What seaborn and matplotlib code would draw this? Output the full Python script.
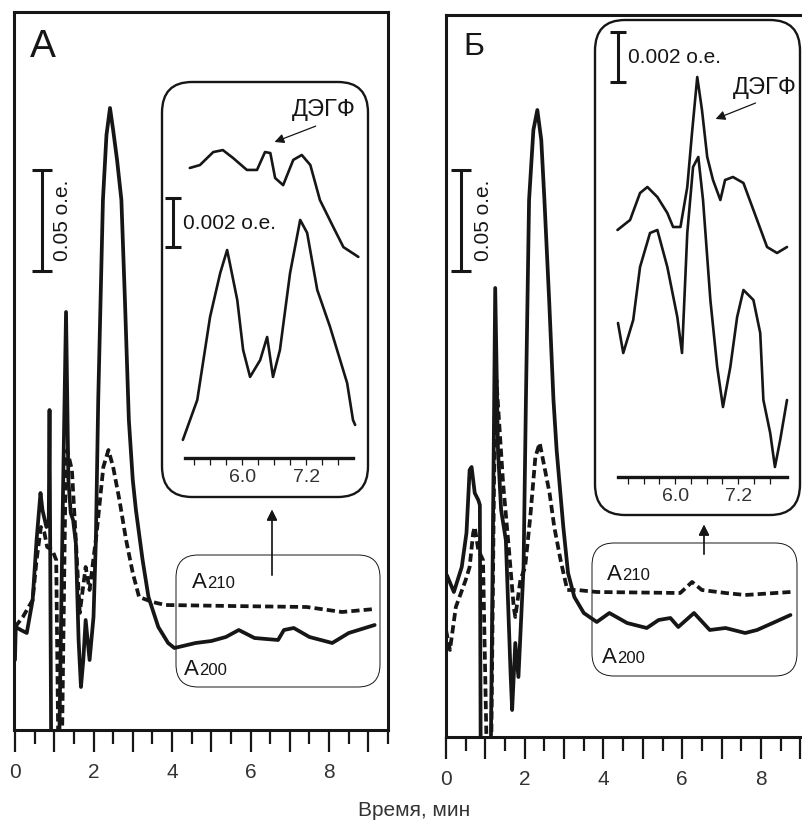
import numpy as np
import pandas as pd
import matplotlib.pyplot as plt
import seaborn as sns
from matplotlib.patches import FancyBboxPatch

sns.set_style("white")
plt.rcParams['font.family'] = ['Liberation Sans', 'DejaVu Sans']

W, H = 802, 821
INK = '#161616'

# --- Панель А: основная хроматограмма (время, мин / поглощение, о.е.) ---
a200_t = [0.00, 0.02, 0.15, 0.30, 0.45, 0.55, 0.65, 0.70, 0.80, 0.86, 0.88, 0.92, 1.13, 1.22, 1.30,
          1.36, 1.42, 1.48, 1.55, 1.62, 1.68, 1.74, 1.80, 1.90, 2.00, 2.06, 2.12, 2.18, 2.24, 2.33,
          2.42, 2.50, 2.60, 2.71, 2.80, 2.90, 3.00, 3.08, 3.25, 3.40, 3.65, 3.90, 4.06, 4.60, 5.00,
          5.37, 5.70, 6.10, 6.70, 6.85, 7.10, 7.50, 8.08, 8.50, 9.16]
a200_y = [0.035, 0.0515, 0.050, 0.0485, 0.065, 0.095, 0.1185, 0.110, 0.1015, 0.105, 0.160, -0.003,
          -0.003, 0.115, 0.209, 0.125, 0.1085, 0.105, 0.0935, 0.045, 0.0215, 0.035, 0.055, 0.035,
          0.0565, 0.095, 0.165, 0.215, 0.265, 0.2975, 0.311, 0.300, 0.285, 0.265, 0.215, 0.155,
          0.125, 0.110, 0.085, 0.0665, 0.0515, 0.0435, 0.041, 0.0435, 0.0445, 0.0465, 0.050, 0.046,
          0.045, 0.050, 0.051, 0.0465, 0.0435, 0.0485, 0.0525]
a210_t = [0.00, 0.20, 0.45, 0.55, 0.66, 0.75, 0.82, 0.95, 1.05, 1.10, 1.20, 1.28, 1.33, 1.45, 1.55,
          1.65, 1.80, 1.90, 2.08, 2.25, 2.38, 2.50, 2.66, 2.83, 3.00, 3.16, 3.50, 3.83, 5.50, 7.43,
          8.33, 9.16]
a210_y = [0.0515, 0.0565, 0.065, 0.085, 0.1015, 0.0985, 0.0915, 0.090, 0.085, -0.003, -0.003, 0.115,
          0.140, 0.130, 0.095, 0.0585, 0.0815, 0.070, 0.0985, 0.1315, 0.140, 0.1315, 0.115, 0.095,
          0.0785, 0.0665, 0.064, 0.0625, 0.062, 0.0615, 0.059, 0.0605]

# --- Панель Б ---
b200_t = [0.00, 0.02, 0.20, 0.40, 0.52, 0.60, 0.65, 0.73, 0.82, 0.86, 0.88, 1.14, 1.20, 1.25, 1.32,
          1.40, 1.52, 1.64, 1.68, 1.76, 1.84, 1.97, 2.03, 2.11, 2.22, 2.32, 2.42, 2.50, 2.62, 2.73,
          2.81, 2.98, 3.10, 3.26, 3.50, 3.83, 4.15, 4.60, 5.10, 5.40, 5.70, 5.90, 6.30, 6.70, 7.10,
          7.60, 7.90, 8.30, 8.75]
b200_y = [0.0785, 0.081, 0.0725, 0.085, 0.102, 0.1335, 0.135, 0.122, 0.1185, 0.116, -0.004, -0.004,
          0.1185, 0.2245, 0.1435, 0.1135, 0.0985, 0.032, 0.0135, 0.047, 0.030, 0.085, 0.1685, 0.2685,
          0.3035, 0.3135, 0.2985, 0.2685, 0.2185, 0.1685, 0.1435, 0.105, 0.082, 0.070, 0.062, 0.0575,
          0.062, 0.057, 0.0545, 0.0585, 0.0595, 0.055, 0.062, 0.0535, 0.0545, 0.052, 0.0535, 0.057,
          0.061]
b210_t = [0.00, 0.10, 0.25, 0.50, 0.60, 0.69, 0.73, 0.82, 0.94, 1.03, 1.15, 1.22, 1.28, 1.45, 1.60,
          1.72, 1.76, 1.89, 2.01, 2.14, 2.27, 2.38, 2.50, 2.63, 2.75, 2.91, 3.08, 3.33, 3.83, 5.95,
          6.25, 6.50, 7.10, 7.60, 8.75]
b210_y = [0.0535, 0.0435, 0.065, 0.0785, 0.085, 0.102, 0.105, 0.0935, 0.0885, -0.004, -0.004, 0.1285,
          0.1785, 0.127, 0.0935, 0.065, 0.060, 0.0785, 0.085, 0.110, 0.140, 0.147, 0.135, 0.122,
          0.105, 0.0885, 0.0735, 0.0735, 0.0725, 0.072, 0.0775, 0.0735, 0.072, 0.071, 0.0725]

# --- Вставки (время, мин / 0.001 о.е.) ---
ins_a_up_t = [5.02, 5.21, 5.46, 5.64, 5.83, 6.09, 6.28, 6.43, 6.53, 6.62, 6.77, 6.96, 7.12, 7.28,
              7.46, 7.71, 7.90, 8.18]
ins_a_up_y = [11.84, 11.96, 12.49, 12.57, 12.25, 11.76, 11.76, 12.49, 12.45, 11.43, 11.14, 12.17,
              12.37, 11.96, 10.53, 9.43, 8.61, 8.21]
ins_a_lo_t = [4.89, 5.16, 5.40, 5.59, 5.72, 5.77, 5.91, 6.02, 6.15, 6.34, 6.47, 6.58, 6.71, 6.90,
              7.09, 7.22, 7.41, 7.65, 7.97, 8.08, 8.12]
ins_a_lo_y = [0.74, 2.37, 5.76, 7.55, 8.49, 7.96, 6.45, 4.41, 3.31, 4.00, 4.94, 3.31, 4.41, 7.55,
              9.72, 9.19, 6.86, 5.35, 3.06, 1.55, 1.35]
ins_b_up_t = [4.90, 5.14, 5.33, 5.47, 5.66, 5.85, 5.96, 6.10, 6.23, 6.32, 6.42, 6.51, 6.61, 6.72,
              6.86, 6.95, 7.10, 7.30, 7.49, 7.75, 7.94, 8.13]
ins_b_up_y = [9.88, 10.28, 11.36, 11.60, 11.20, 10.56, 10.00, 10.00, 11.60, 13.76, 16.00, 14.68,
              12.80, 11.88, 11.08, 11.88, 12.00, 11.76, 10.68, 9.20, 8.96, 9.20]
ins_b_lo_t = [4.91, 5.01, 5.20, 5.33, 5.52, 5.66, 5.85, 6.04, 6.13, 6.23, 6.34, 6.44, 6.53, 6.67,
              6.80, 6.91, 7.05, 7.18, 7.30, 7.49, 7.62, 7.68, 7.81, 7.90, 8.00, 8.13]
ins_b_lo_y = [6.16, 4.96, 6.28, 8.40, 9.76, 9.88, 8.40, 6.40, 4.96, 9.76, 12.40, 12.80, 11.08, 7.08,
              4.40, 2.80, 4.40, 6.40, 7.48, 7.08, 5.76, 3.08, 1.76, 0.40, 1.48, 3.08]

ins_major = [5.4, 6.0, 6.6, 7.2, 7.8]
ins_minor = [5.1, 5.7, 6.3, 6.9, 7.5]
ins_labels = ['', '6.0', '', '7.2', '']

DASH = (0, (2.2, 1.1))


def px_rect(x0, y0, x1, y1):
    # прямоугольник в пикселях (от верхнего левого угла) -> доли фигуры
    return [x0 / W, 1 - y1 / H, (x1 - x0) / W, (y1 - y0) / H]


def main_panel(rect, xlim, ylim, t200, y200, t210, y210, ticks):
    ax = fig.add_axes(rect)
    sns.lineplot(x=t210, y=y210, ax=ax, color=INK, lw=2.7, linestyle=DASH, estimator=None, sort=False)
    sns.lineplot(x=t200, y=y200, ax=ax, color=INK, lw=2.7, estimator=None, sort=False)
    ax.set_xlim(*xlim)
    ax.set_ylim(*ylim)
    ax.set_yticks([])
    ax.set_xticks(ticks, labels=[str(i) if i % 2 == 0 else '' for i in ticks])
    ax.set_xticks([i + 0.5 for i in ticks], minor=True)
    ax.tick_params(axis='x', which='major', direction='out', length=16, width=1.6, pad=8,
                   labelsize=15, color=INK, labelcolor='#333333', bottom=True)
    ax.tick_params(axis='x', which='minor', direction='out', length=10, width=1.6, color=INK, bottom=True)
    for s in ax.spines.values():
        s.set_linewidth(2.2)
        s.set_color(INK)
    ax.set_xlabel('')
    ax.set_ylabel('')
    return ax


def inset(rect, xlim, ylim, up_t, up_y, lo_t, lo_y):
    ax = fig.add_axes(rect)
    ax.set_zorder(3)
    ax.patch.set_alpha(0)
    for t, y in ((up_t, up_y), (lo_t, lo_y)):
        sns.lineplot(x=t, y=y, ax=ax, color=INK, lw=1.9, estimator=None, sort=False, clip_on=False)
    ax.set_xlim(*xlim)
    ax.set_ylim(*ylim)
    ax.set_yticks([])
    ax.set_xticks(ins_major, labels=ins_labels)
    ax.set_xticks(ins_minor, minor=True)
    ax.tick_params(axis='x', which='both', direction='out', length=5, width=0.9, pad=3,
                   labelsize=14, color=INK, labelcolor='#333333', bottom=True)
    for side in ('top', 'left', 'right'):
        ax.spines[side].set_visible(False)
    ax.spines['bottom'].set_linewidth(2.4)
    ax.spines['bottom'].set_color(INK)
    ax.set_xlabel('')
    ax.set_ylabel('')
    return ax


def scale_bar(ax, x, y, half, capsize, lw):
    bar = ax.errorbar([x], [y], yerr=[half], fmt='none', ecolor=INK, elinewidth=lw,
                      capsize=capsize, capthick=lw)
    for art in bar.lines[1] + bar.lines[2]:
        art.set_clip_on(False)


def rounded_box(x0, y0, x1, y1, radius, lw, z):
    r = px_rect(x0, y0, x1, y1)
    box = FancyBboxPatch((r[0], r[1]), r[2], r[3], boxstyle=f'round,pad=0,rounding_size={radius / W}',
                         transform=fig.transFigure, fill=True, facecolor='white', edgecolor=INK,
                         lw=lw, zorder=z)
    fig.add_artist(box)


fig = plt.figure(figsize=(W / 100, H / 100), dpi=100)

axA = main_panel(px_rect(14, 12, 388, 730), (-0.025, 9.19), (0, 0.359),
                 a200_t, a200_y, a210_t, a210_y, list(range(10)))
axB = main_panel(px_rect(446, 15, 820, 737), (0, 9.21), (0, 0.361),
                 b200_t, b200_y, b210_t, b210_y, list(range(10)))
axB.spines['right'].set_visible(False)

# шкалы 0.05 о.е.
scale_bar(axA, 0.69, 0.2548, 0.0253, 7, 2.2)
axA.text(1.22, 0.2548, '0.05 о.е.', rotation=90, ha='center', va='center', fontsize=15, color=INK)
scale_bar(axB, 0.39, 0.2583, 0.0253, 7, 2.2)
axB.text(0.95, 0.2583, '0.05 о.е.', rotation=90, ha='center', va='center', fontsize=15, color=INK)

# рамки вставок
rounded_box(162, 82, 368, 497, 30, 1.7, 1.5)
rounded_box(595, 20, 800, 515, 30, 1.7, 1.5)

insA = inset(px_rect(185, 82, 353, 458), (4.93, 8.08), (0, 15.35),
             ins_a_up_t, ins_a_up_y, ins_a_lo_t, ins_a_lo_y)
insB = inset(px_rect(618, 20, 787, 477), (4.91, 8.13), (0, 18.28),
             ins_b_up_t, ins_b_up_y, ins_b_lo_t, ins_b_lo_y)

scale_bar(insA, 4.71, 9.61, 1.0, 6, 2.2)
insA.text(4.89, 9.59, '0.002 о.е.', ha='left', va='center', fontsize=15, color=INK)
insA.text(7.54, 14.2, 'ДЭГФ', ha='center', va='center', fontsize=17, color=INK)
insA.annotate('', xy=(6.56, 12.86), xytext=(7.43, 13.59),
              arrowprops=dict(arrowstyle='-|>', color=INK, lw=0.9, mutation_scale=14))

scale_bar(insB, 4.91, 16.8, 1.0, 6, 2.2)
insB.text(5.10, 16.76, '0.002 о.е.', ha='left', va='center', fontsize=15, color=INK)
insB.text(7.70, 15.56, 'ДЭГФ', ha='center', va='center', fontsize=17, color=INK)
insB.annotate('', xy=(6.72, 14.28), xytext=(7.58, 15.0),
              arrowprops=dict(arrowstyle='-|>', color=INK, lw=0.9, mutation_scale=14))

# нижние рамки и стрелки к вставкам
for x0, y0, x1, y1 in ((176, 555, 380, 687), (592, 543, 797, 676)):
    r = px_rect(x0, y0, x1, y1)
    fig.add_artist(FancyBboxPatch((r[0], r[1]), r[2], r[3],
                                  boxstyle=f'round,pad=0,rounding_size={22 / W}',
                                  transform=fig.transFigure, fill=False, edgecolor=INK, lw=0.7,
                                  zorder=1.6))
for x, y_from, y_to in ((272, 578, 507), (704, 557, 522)):
    fig.add_artist(plt.annotate('', xy=(x, H - y_to), xytext=(x, H - y_from), xycoords='figure pixels',
                                arrowprops=dict(arrowstyle='-|>', color=INK, lw=0.9, mutation_scale=16)))

# подписи A210 / A200
for x, y, digits in ((192, 588, '210'), (184, 675, '200'), (607, 580, '210'), (602, 663, '200')):
    fig.text(x / W, 1 - y / H, 'A', fontsize=16, color=INK, va='baseline', ha='left')
    fig.text((x + 15) / W, 1 - y / H, digits, fontsize=12, color=INK, va='baseline', ha='left')

# буквы панелей
fig.text(30 / W, 1 - 57 / H, 'А', fontsize=28, color=INK, va='baseline', ha='left')
fig.text(463 / W, 1 - 55 / H, 'Б', fontsize=23, color=INK, va='baseline', ha='left')

fig.text(414 / W, 1 - 810 / H, 'Время, мин', fontsize=15, color='#333333', ha='center', va='center')

fig.savefig('out.png', dpi=100)
plt.close(fig)
